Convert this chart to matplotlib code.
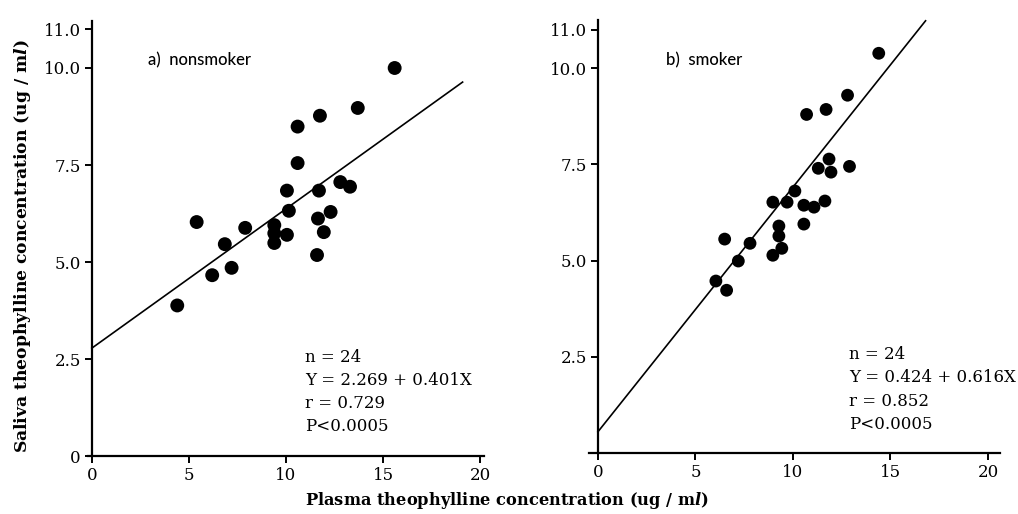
import numpy as np
import matplotlib
matplotlib.use("Agg")
import matplotlib.pyplot as plt

plt.rcParams['mathtext.fontset'] = 'custom'
plt.rcParams['mathtext.it'] = 'DejaVu Serif:italic:bold'

# a) nonsmoker: plasma (x) vs saliva (y)
ns_plasma = [15.6, 13.7, 11.75, 10.6, 10.6, 10.05, 11.7, 12.8, 13.3, 10.15, 12.3, 11.65,
             11.95, 10.05, 9.4, 9.4, 9.4, 5.4, 7.9, 6.85, 11.6, 4.4, 6.2, 7.2]
ns_saliva = [10.0, 8.97, 8.77, 8.49, 7.55, 6.84, 6.84, 7.06, 6.94, 6.32, 6.29, 6.12,
             5.77, 5.70, 5.95, 5.74, 5.49, 6.03, 5.88, 5.46, 5.18, 3.88, 4.66, 4.85]
# line as drawn in the figure
ns_line = (2.78, 0.359, 19.1)

# b) smoker
sm_plasma = [14.4, 12.8, 11.7, 10.7, 11.85, 11.3, 11.95, 12.9, 10.1, 8.97, 9.7, 10.56,
             11.08, 11.64, 10.56, 9.28, 9.28, 9.43, 8.97, 6.5, 7.8, 7.2, 6.05, 6.6]
sm_saliva = [10.39, 9.30, 8.93, 8.80, 7.64, 7.40, 7.30, 7.45, 6.81, 6.52, 6.52, 6.44,
             6.39, 6.55, 5.95, 5.90, 5.64, 5.32, 5.14, 5.56, 5.45, 4.99, 4.47, 4.23]
sm_line = (0.55, 0.636, 16.8)

ns_stats = ['n = 24', 'Y = 2.269 + 0.401X', 'r = 0.729', 'P<0.0005']
sm_stats = ['n = 24', 'Y = 0.424 + 0.616X', 'r = 0.852', 'P<0.0005']

xticks = [0, 5, 10, 15, 20]
ns_yticks = [0, 2.5, 5.0, 7.5, 10.0, 11.0]
sm_yticks = [2.5, 5.0, 7.5, 10.0, 11.0]

fig = plt.figure(figsize=(10.18, 5.14), dpi=100)
ax1 = fig.add_axes([0.0864, 0.1128, 0.389, 0.8455])
ax2 = fig.add_axes([0.5787, 0.1187, 0.4033, 0.842])

panels = [
    (ax1, ns_plasma, ns_saliva, ns_line, ns_stats, ns_yticks, 'a)  nonsmoker',
     (-0.2, 20.2), (0, 11.2), 100, (2.9, 10.2), (11.0, 2.55)),
    (ax2, sm_plasma, sm_saliva, sm_line, sm_stats, sm_yticks, 'b)  smoker',
     (-0.45, 20.6), (0, 11.25), 85, (3.5, 10.2), (12.9, 2.55)),
]

for ax, xs, ys, line, stats, yt, title, xl, yl, ms, tpos, spos in panels:
    ax.scatter(xs, ys, s=ms, c='black', edgecolors='none', zorder=3)
    b0, b1, xend = line
    lx = np.array([0, xend])
    ax.plot(lx, b0 + b1 * lx, color='black', lw=1.2, clip_on=False)
    ax.set_xlim(*xl)
    ax.set_ylim(*yl)
    ax.spines['top'].set_visible(False)
    ax.spines['right'].set_visible(False)
    ax.spines['left'].set_position(('data', 0))
    ax.spines['left'].set_linewidth(1.6)
    ax.spines['bottom'].set_linewidth(1.6)
    ax.set_xticks(xticks)
    ax.set_xticklabels([str(t) for t in xticks])
    ax.set_yticks(yt)
    ax.set_yticklabels(['0' if t == 0 else f'{t:.1f}' for t in yt])
    ax.tick_params(direction='out', length=5, width=1.4, labelsize=12, pad=3)
    for lab in ax.get_xticklabels() + ax.get_yticklabels():
        lab.set_family('DejaVu Serif')
    ax.text(tpos[0], tpos[1], title, fontsize=12, family='Lato', fontweight='medium',
            va='center')
    for i, s in enumerate(stats):
        ax.text(spos[0], spos[1] - i * 0.6, s, fontsize=12, family='DejaVu Serif', va='center')

fig.text(0.022, 0.52, r'Saliva theophylline concentration (ug / m$\mathit{l}$)',
         rotation=90, ha='center', va='center', fontsize=12.3, fontweight='heavy',
         family='DejaVu Serif')
fig.text(0.498, 0.027, r'Plasma theophylline concentration (ug / m$\mathit{l}$)',
         ha='center', va='center', fontsize=11.7, fontweight='heavy', family='DejaVu Serif')

fig.savefig('out.png', dpi=100)
